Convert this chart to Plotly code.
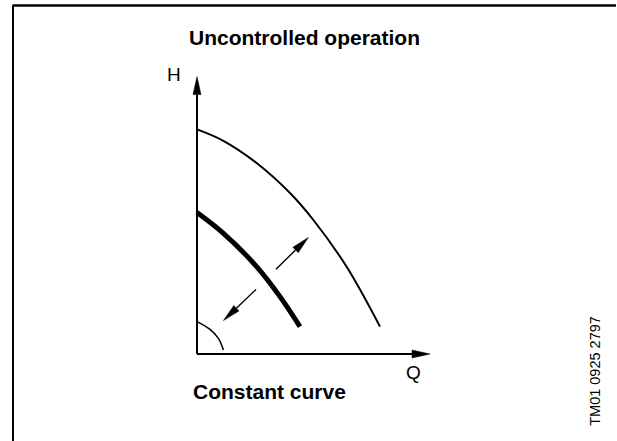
import numpy as np
import plotly.graph_objects as go

# Curve points (Q, H in arbitrary units, origin at the axes corner)
outer_q = [0, 1.32, 2.98, 4.65, 5.82, 7.49, 9.15]
outer_h = [11.23, 10.66, 9.55, 8.05, 6.7, 4.35, 1.37]

constant_q = [0, 1.32, 2.98, 4.15, 5.15]
constant_h = [7.07, 6.03, 4.37, 2.87, 1.37]

min_q = [0, 0.65, 1.07, 1.32]
min_h = [1.62, 1.23, 0.78, 0.2]

# axis extents
q_axis_end = 11.65
h_axis_end = 13.87

# double arrow showing the curve can be moved (tail, tip)
arrow_up = [(3.95, 4.24), (5.57, 5.83)]
arrow_down = [(2.95, 3.23), (1.32, 1.67)]

title_text = "Uncontrolled operation"
subtitle_text = "Constant curve"
ref_text = "TM01 0925 2797"

W, H = 617, 441
PX = 20.0  # pixels per unit on both axes
X_RANGE = [-197 / PX, (W - 197) / PX]
Y_RANGE = [(354 - H) / PX, 354 / PX]

FONT = "Liberation Sans, Arial, sans-serif"


def head(tail, tip, length=18, half=4):
    # filled triangle at the tip, sized in pixels
    tx, ty = tail
    hx, hy = tip
    d = np.array([hx - tx, hy - ty])
    d = d / np.linalg.norm(d)
    n = np.array([-d[1], d[0]])
    base = np.array([hx, hy]) - d * length / PX
    p1 = base + n * half / PX
    p2 = base - n * half / PX
    xs = [hx, p1[0], p2[0], hx]
    ys = [hy, p1[1], p2[1], hy]
    return xs, ys, base


def add_arrow(fig, tail, tip, width, length=18, half=4):
    xs, ys, base = head(tail, tip, length, half)
    fig.add_trace(go.Scatter(x=[tail[0], base[0]], y=[tail[1], base[1]], mode="lines",
                             line=dict(color="black", width=width), hoverinfo="skip"))
    fig.add_trace(go.Scatter(x=xs, y=ys, mode="lines", fill="toself", fillcolor="black",
                             line=dict(color="black", width=0.5), hoverinfo="skip"))


def label(fig, x, y, text, size, bold=False, angle=0, family=FONT):
    # text placed by its centre, in page fractions
    fig.add_annotation(x=x / W, y=1 - y / H, xref="paper", yref="paper",
                       xanchor="center", yanchor="middle", textangle=angle,
                       text="<b>%s</b>" % text if bold else text, showarrow=False,
                       font=dict(family=family, size=size, color="black"))


fig = go.Figure()

# pump curves
fig.add_trace(go.Scatter(x=outer_q, y=outer_h, mode="lines", line_shape="spline",
                         line=dict(color="black", width=2)))
fig.add_trace(go.Scatter(x=constant_q, y=constant_h, mode="lines", line_shape="spline",
                         line=dict(color="black", width=5)))
fig.add_trace(go.Scatter(x=min_q, y=min_h, mode="lines", line_shape="spline",
                         line=dict(color="black", width=1.5)))

# axes with arrow heads
add_arrow(fig, (0, 0), (0, h_axis_end), 2)
add_arrow(fig, (0, 0), (q_axis_end, 0), 2)

# curve shift arrows
add_arrow(fig, arrow_up[0], arrow_up[1], 1.4, 18, 3.8)
add_arrow(fig, arrow_down[0], arrow_down[1], 1.4, 18, 3.8)

# frame lines (top and left)
fig.add_shape(type="line", xref="paper", yref="paper", x0=12.5 / W, x1=616 / W, y0=1 - 5.5 / H, y1=1 - 5.5 / H,
              line=dict(color="black", width=2.3))
fig.add_shape(type="line", xref="paper", yref="paper", x0=13 / W, x1=13 / W, y0=0, y1=1 - 5.5 / H,
              line=dict(color="black", width=2))

label(fig, 304.5, 38, title_text, 21, bold=True)
label(fig, 269, 391, subtitle_text, 21, bold=True)
label(fig, 595, 370.8, ref_text, 14.5, angle=-90)
fig.add_annotation(x=-1.15, y=14.0, text="H", showarrow=False,
                   font=dict(family=FONT, size=19, color="black"))
fig.add_annotation(x=10.8, y=-0.9, text="Q", showarrow=False,
                   font=dict(family=FONT, size=19, color="black"))

fig.update_layout(
    width=W, height=H,
    margin=dict(l=0, r=0, t=0, b=0),
    paper_bgcolor="white", plot_bgcolor="white",
    showlegend=False,
    xaxis=dict(range=X_RANGE, visible=False, fixedrange=True),
    yaxis=dict(range=Y_RANGE, visible=False, fixedrange=True),
)

# drop the default page margin so the figure sits at the window corner
fig.write_html("out.html", config={"displayModeBar": False},
               post_script="document.body.style.margin='0';document.body.style.overflow='hidden';")
